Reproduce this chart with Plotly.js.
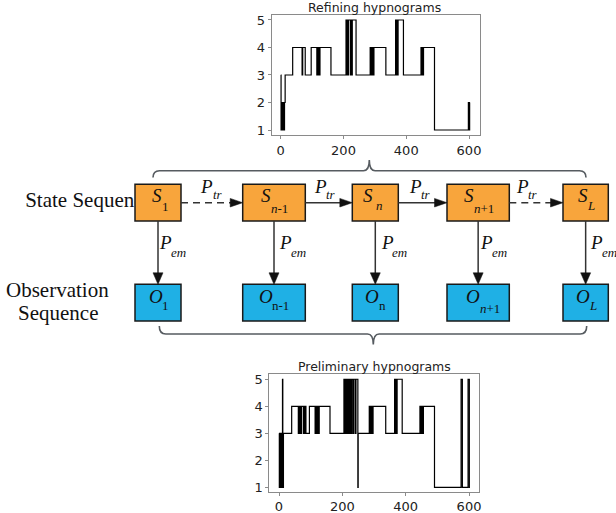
<!DOCTYPE html>
<html>
<head>
<meta charset="utf-8">
<script src="https://cdn.plot.ly/plotly-3.0.1.min.js"></script>
<style>html,body{margin:0;padding:0;background:#fff;}#chart{width:616px;height:513px;}</style>
</head>
<body>
<div id="chart"></div>
<script>
// ---- data: hypnograms (epoch where stage changes, stage value) ----
const refEpoch = [0,1,3,4,6,7,9,10,12,14,38,68,70,78,97,115,117,119,121,123,125,160,208,210,212,214,216,222,224,226,228,240,285,287,289,291,293,295,297,335,366,368,370,372,374,391,447,449,451,453,455,490,598,599,600,601,602,603];
const refStage = [3,1,2,1,2,1,2,1,2,3,4,3,4,3,4,3,4,3,4,3,4,3,5,3,5,3,5,3,5,3,5,3,4,3,4,3,4,3,4,3,5,3,5,3,5,3,4,3,4,3,4,1,2,1,2,1,2,2];
const preEpoch = [0,1,3,4,6,7,9,10,11,12,14,40,61,63,65,67,69,71,77,79,81,83,85,96,114,116,118,120,122,124,126,127,161,205,207,209,211,213,215,217,220,222,224,226,228,230,234,236,241,243,249,250,285,287,289,291,293,295,297,337,365,367,369,371,373,389,445,447,449,451,453,455,456,491,575,579,597,601,603];
const preStage = [3,1,3,1,3,1,3,1,5,1,3,4,3,4,3,4,3,4,3,4,3,4,3,4,3,4,3,4,3,4,3,4,3,5,3,5,3,5,3,5,3,5,3,5,3,5,3,5,3,5,1,3,4,3,4,3,4,3,4,3,5,3,5,3,5,3,4,3,4,3,4,3,4,1,5,1,5,1,1];
const xTicks = [0,200,400,600];
const yTicks = [1,2,3,4,5];
const titles = ['Refining hypnograms','Preliminary hypnograms'];
const stateMain = ['S','S','S','S','S'];
const stateSubs = ['1','<i>n</i>-1','<i>n</i>','<i>n</i>+1','<i>L</i>'];
const obsMain = ['O','O','O','O','O'];
const obsSubs = ['1','n-1','n','<i>n</i>+1','<i>L</i>'];
const transLabel = ['P','tr'];
const emitLabel = ['P','em'];
const leftTexts = ['State Sequence','Observation','Sequence'];

// ---- diagram geometry (pixel coordinates) ----
const G = {
  boxL:[135,242.7,352.3,447,563], boxR:[181,305.3,398.3,509.3,608.3],
  sTop:184.3, sBot:221, oTop:284.3, oBot:321, arrowY:202.7,
  sCx:[157,266,367.5,469,582.5], sSubCx:[165.5,279,379.5,483.5,590.5], sSubBase:[210.7,213.3,210,212.7,210], sBase:201.7,
  oCx:[155.5,265.5,371.7,472.5,582.7], oSubCx:[165,280.5,382.5,490,593.3], oSubBase:[310,310,310,313,310], oBase:303.3,
  trCx:[206.7,320.5,415.3,522.5], trSubCx:[218,331.2,426.2,533], trBase:193.3, trSubBase:199,
  emCx:[165.5,285.5,387.5,486,596.7], emSubCx:[178,298.3,399.7,499.7,609], emBase:249.3, emSubBase:256.7,
  dashed:[true,false,false,true]
};
const ORANGE='#F8A53C', BLUE='#1FB0E5', EDGE='#1a1a1a', ARROW='#333333', BRACE='#565b60';
const serif='Liberation Serif';

function mid(base,size){return base-0.3375*size;}
const shapes=[]; const ann=[];
function P(o){return Object.assign({xref:'x3',yref:'y3',layer:'above'},o);}

// boxes
for(let i=0;i<5;i++){
  shapes.push(P({type:'rect',x0:G.boxL[i],x1:G.boxR[i],y0:G.sTop,y1:G.sBot,fillcolor:ORANGE,line:{color:EDGE,width:1.5}}));
  shapes.push(P({type:'rect',x0:G.boxL[i],x1:G.boxR[i],y0:G.oTop,y1:G.oBot,fillcolor:BLUE,line:{color:EDGE,width:1.5}}));
  const cx=(G.boxL[i]+G.boxR[i])/2;
  shapes.push(P({type:'line',x0:cx,x1:cx,y0:G.sBot,y1:G.oTop-10,line:{color:ARROW,width:1.5}}));
  shapes.push(P({type:'path',path:`M ${cx-5},${G.oTop-11.5} L ${cx+5},${G.oTop-11.5} L ${cx},${G.oTop} Z`,fillcolor:'#111',line:{color:'#111',width:0.5}}));
}
// horizontal transition arrows
for(let i=0;i<4;i++){
  const x0=G.boxR[i], tip=G.boxL[i+1], y=G.arrowY;
  shapes.push(P({type:'line',x0:x0,x1:tip-11,y0:y,y1:y,line:{color:ARROW,width:1.5,dash:G.dashed[i]?'7px,5px':'solid'}}));
  shapes.push(P({type:'path',path:`M ${tip-12.5},${y-4.3} L ${tip-12.5},${y+4.3} L ${tip},${y} Z`,fillcolor:'#111',line:{color:'#111',width:0.5}}));
}
// braces
shapes.push(P({type:'path',path:'M 153,177.5 Q 153,170.7 159.5,170.7 L 363.5,170.7 Q 369.3,170.7 369.3,160 Q 369.3,170.7 375.1,170.7 L 579.5,170.7 Q 586,170.7 586,177.5',line:{color:BRACE,width:1.6}}));
shapes.push(P({type:'path',path:'M 159.3,326 Q 159.3,334 165.8,334 L 367.5,334 Q 373.3,334 373.3,344.5 Q 373.3,334 379.1,334 L 580.2,334 Q 586.7,334 586.7,326',line:{color:BRACE,width:1.6}}));

function A(text,x,y,size,italic){
  ann.push({xref:'x3',yref:'y3',x:x,y:y,xanchor:'center',yanchor:'middle',showarrow:false,borderpad:0,
    text: italic?'<i>'+text+'</i>':text, font:{family:serif,size:size,color:'#111'}});
}
for(let i=0;i<5;i++){
  A(stateMain[i],G.sCx[i],mid(G.sBase,19),19,true);
  A(stateSubs[i],G.sSubCx[i],mid(G.sSubBase[i],13),13,false);
  A(obsMain[i],G.oCx[i],mid(G.oBase,19),19,true);
  A(obsSubs[i],G.oSubCx[i],mid(G.oSubBase[i],13),13,false);
  A(emitLabel[0],G.emCx[i],mid(G.emBase,19),19,true);
  A(emitLabel[1],G.emSubCx[i],mid(G.emSubBase,13),13,true);
}
for(let i=0;i<4;i++){
  A(transLabel[0],G.trCx[i],mid(G.trBase,19),19,true);
  A(transLabel[1],G.trSubCx[i],mid(G.trSubBase,13),13,true);
}
A(leftTexts[1],57.5,mid(296.7,21),21,false);
A(leftTexts[2],57.5,mid(320,21),21,false);
// hypnogram titles
ann.push({xref:'x3',yref:'y3',x:374.2,y:7.6,xanchor:'center',yanchor:'middle',showarrow:false,borderpad:0,text:titles[0],font:{family:'DejaVu Sans',size:12.5,color:'#222'}});
ann.push({xref:'x3',yref:'y3',x:374.3,y:366.4,xanchor:'center',yanchor:'middle',showarrow:false,borderpad:0,text:titles[1],font:{family:'DejaVu Sans',size:12.5,color:'#222'}});

const traces=[
  {x:refEpoch,y:refStage,xaxis:'x',yaxis:'y',mode:'lines',line:{shape:'hv',color:'#000',width:1.2},hoverinfo:'skip'},
  {x:preEpoch,y:preStage,xaxis:'x2',yaxis:'y2',mode:'lines',line:{shape:'hv',color:'#000',width:1.2},hoverinfo:'skip'},
  {x:[89],y:[202],xaxis:'x3',yaxis:'y3',mode:'text',text:[leftTexts[0]],textposition:'middle center',textfont:{family:serif,size:21,color:'#111'},hoverinfo:'skip',cliponaxis:false}
];
const axBase={showgrid:false,zeroline:false,showline:true,mirror:true,linecolor:'#8a8a8a',linewidth:1,ticks:'outside',ticklen:3,tickcolor:'#8a8a8a',tickfont:{family:'DejaVu Sans',size:13,color:'#222'},fixedrange:true};
const layout={
  width:616,height:513,margin:{l:0,r:0,t:0,b:0},paper_bgcolor:'#fff',plot_bgcolor:'rgba(0,0,0,0)',showlegend:false,
  xaxis:Object.assign({},axBase,{domain:[0.441,0.7792],range:[-29,635],tickvals:xTicks,anchor:'y'}),
  yaxis:Object.assign({},axBase,{domain:[0.7368,0.9708],range:[0.818,5.182],tickvals:yTicks,anchor:'x'}),
  xaxis2:Object.assign({},axBase,{domain:[0.4372,0.7781],range:[-30.6,632.5],tickvals:xTicks,anchor:'y2'}),
  yaxis2:Object.assign({},axBase,{domain:[0.0415,0.2710],range:[0.837,5.196],tickvals:yTicks,anchor:'x2'}),
  xaxis3:{domain:[0,1],range:[0,616],visible:false,anchor:'y3',fixedrange:true},
  yaxis3:{domain:[0,1],range:[513,0],visible:false,anchor:'x3',fixedrange:true},
  shapes:shapes,annotations:ann
};
Plotly.newPlot('chart',traces,layout,{staticPlot:true,displayModeBar:false});
</script>
</body>
</html>
